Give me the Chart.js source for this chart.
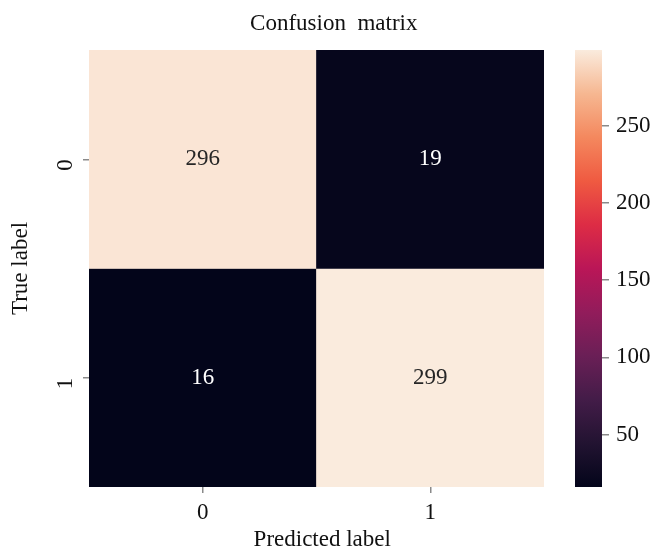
<!DOCTYPE html>
<html>
<head>
<meta charset="utf-8">
<title>Confusion matrix</title>
<script src="https://cdn.jsdelivr.net/npm/chart.js"></script>
<style>
body { margin: 0; background: #fff; }
#wrap { position: relative; width: 657px; height: 551px; }
#heat { position: absolute; left: 0; top: 0; }
#cbar { position: absolute; left: 560px; top: 0; }
</style>
</head>
<body>
<div id="wrap">
  <canvas id="heat" width="657" height="551"></canvas>
  <canvas id="cbar" width="97" height="551"></canvas>
</div>
<script>
// -------- DATA --------
const predictedLabels = ['0', '1'];
const trueLabels = ['0', '1'];
const row0 = [296, 19];
const row1 = [16, 299];
const colorbarTicks = [50, 100, 150, 200, 250];

const rows = [row0, row1];
const allValues = rows.flat();
const vMin = Math.min(...allValues);
const vMax = Math.max(...allValues);

const FONT = 'Liberation Serif, Times New Roman, serif';
const TICK_COLOR = '#8a8a8a';

// seaborn "rocket" colormap, approximate stops
const rocket = [
    [0.00, [3, 5, 26]],
    [0.10, [34, 19, 49]],
    [0.20, [67, 28, 72]],
    [0.30, [106, 31, 86]],
    [0.40, [146, 28, 91]],
    [0.50, [186, 22, 87]],
    [0.60, [221, 44, 69]],
    [0.70, [239, 90, 65]],
    [0.80, [244, 136, 94]],
    [0.90, [246, 183, 145]],
    [1.00, [250, 235, 221]]
];

function rocketColor(t) {
    t = Math.max(0, Math.min(1, t));
    for (let i = 1; i < rocket.length; i++) {
        if (t <= rocket[i][0]) {
            const [t0, c0] = rocket[i - 1];
            const [t1, c1] = rocket[i];
            const f = (t - t0) / (t1 - t0);
            const c = c0.map((v, k) => Math.round(v + (c1[k] - v) * f));
            return 'rgb(' + c.join(',') + ')';
        }
    }
    return 'rgb(250,235,221)';
}

function valueColor(v) {
    return rocketColor((v - vMin) / (vMax - vMin));
}

// -------- HEATMAP --------
const datasets = rows.map((row, r) => ({
    label: 'True ' + trueLabels[r],
    data: row.map((v, c) => ({ x: predictedLabels[c], y: [r - 0.5, r + 0.5], v: v })),
    backgroundColor: row.map(v => valueColor(v)),
    borderWidth: 0,
    barPercentage: 1,
    categoryPercentage: 1,
    grouped: false
}));

const annotate = {
    id: 'annotate',
    afterDatasetsDraw(chart) {
        const ctx = chart.ctx;
        ctx.save();
        ctx.font = '23px ' + FONT;
        ctx.textAlign = 'center';
        ctx.textBaseline = 'middle';
        chart.data.datasets.forEach((ds, i) => {
            chart.getDatasetMeta(i).data.forEach((bar, j) => {
                const v = ds.data[j].v;
                const t = (v - vMin) / (vMax - vMin);
                ctx.fillStyle = t > 0.5 ? '#262626' : '#ffffff';
                const p = bar.getCenterPoint();
                ctx.fillText(String(v), p.x, p.y);
            });
        });
        ctx.restore();
    }
};

new Chart(document.getElementById('heat'), {
    type: 'bar',
    data: { labels: predictedLabels, datasets: datasets },
    plugins: [annotate],
    options: {
        responsive: false,
        animation: false,
        parsing: { xAxisKey: 'x', yAxisKey: 'y' },
        // right side is left free for the colorbar canvas
        layout: { padding: { left: 0, right: 113, top: 0, bottom: 0 } },
        plugins: {
            legend: { display: false },
            tooltip: { enabled: false },
            title: {
                display: true,
                // leading spaces nudge the title right, as in the original figure
                text: '\u2002\u2002\u2002Confusion  matrix',
                fullSize: false,
                color: '#111',
                font: { family: FONT, size: 23, weight: 'normal', lineHeight: 1.2 },
                padding: { top: 10, bottom: 12.4 }
            }
        },
        scales: {
            x: {
                type: 'category',
                offset: true,
                grid: { offset: false, drawOnChartArea: false, drawTicks: true, tickLength: 6, color: TICK_COLOR, lineWidth: 1.5 },
                border: { display: false },
                ticks: { color: '#111', font: { family: FONT, size: 23 }, padding: 6 },
                title: {
                    display: true,
                    text: '\u2002Predicted label',
                    color: '#111',
                    font: { family: FONT, size: 23, lineHeight: 1 },
                    padding: { top: 0, bottom: 0 }
                },
                afterFit(scale) { scale.height = 64; }
            },
            y: {
                type: 'linear',
                min: -0.5,
                max: 1.5,
                reverse: true,
                grid: { drawOnChartArea: false, drawTicks: true, tickLength: 6, color: TICK_COLOR, lineWidth: 1.5 },
                border: { display: false },
                afterBuildTicks(scale) {
                    scale.ticks = trueLabels.map((_, i) => ({ value: i }));
                },
                ticks: {
                    color: '#111',
                    font: { family: FONT, size: 23 },
                    minRotation: 90,
                    maxRotation: 90,
                    padding: 17,
                    callback: v => trueLabels[v]
                },
                title: {
                    display: true,
                    text: 'True label',
                    color: '#111',
                    font: { family: FONT, size: 23 },
                    padding: { top: 7, bottom: 0 }
                },
                afterFit(scale) { scale.width = 89; }
            }
        }
    }
});

// -------- COLORBAR --------
new Chart(document.getElementById('cbar'), {
    type: 'bar',
    data: {
        labels: [''],
        datasets: [{
            data: [[vMin, vMax]],
            borderWidth: 0,
            barPercentage: 1,
            categoryPercentage: 1,
            backgroundColor(context) {
                const chart = context.chart;
                const area = chart.chartArea;
                if (!area) return null;
                const y = chart.scales.y;
                const g = chart.ctx.createLinearGradient(0, y.getPixelForValue(vMin), 0, y.getPixelForValue(vMax));
                rocket.forEach(([t, c]) => g.addColorStop(t, 'rgb(' + c.join(',') + ')'));
                return g;
            }
        }]
    },
    options: {
        responsive: false,
        animation: false,
        layout: { padding: { left: 15, right: 0, top: 50, bottom: 64 } },
        plugins: { legend: { display: false }, tooltip: { enabled: false } },
        scales: {
            x: { display: false },
            y: {
                position: 'right',
                min: vMin,
                max: vMax,
                grid: { drawOnChartArea: false, drawTicks: true, tickLength: 7, color: TICK_COLOR, lineWidth: 1.5 },
                border: { display: false },
                afterBuildTicks(scale) {
                    scale.ticks = colorbarTicks.map(v => ({ value: v }));
                },
                ticks: { color: '#111', font: { family: FONT, size: 23 }, padding: 7 },
                afterFit(scale) { scale.width = 55; }
            }
        }
    }
});
</script>
</body>
</html>
